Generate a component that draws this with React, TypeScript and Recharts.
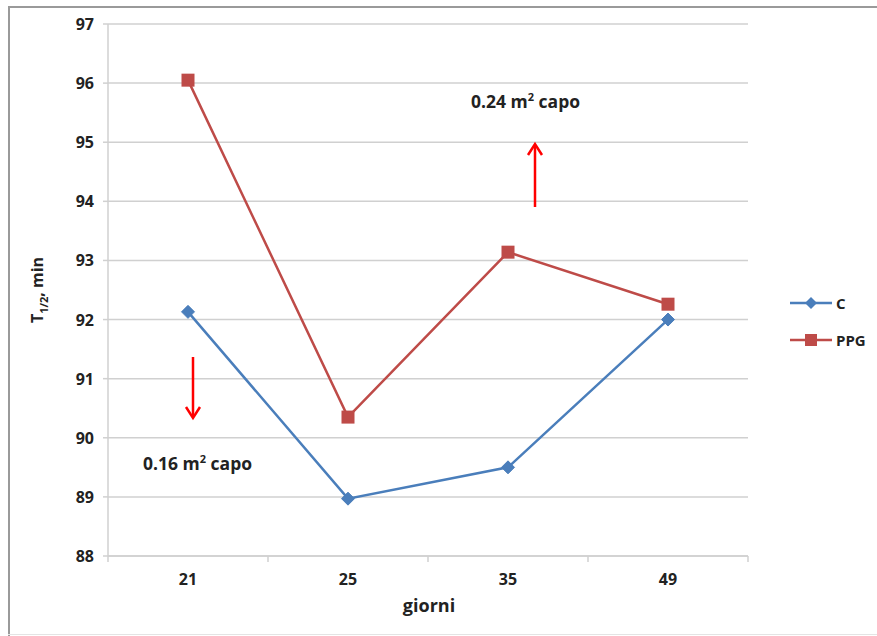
import React from "react";
import {
  LineChart,
  Line,
  XAxis,
  YAxis,
  CartesianGrid,
  Customized,
} from "recharts";

// Days on feed and half-time values (minutes)
const giorni = ["21", "25", "35", "49"];
const serieC = [92.13, 88.97, 89.5, 92.0];
const seriePPG = [96.05, 90.35, 93.14, 92.26];
const yTicks = [88, 89, 90, 91, 92, 93, 94, 95, 96, 97];

const data = giorni.map((g, i) => ({ giorni: g, C: serieC[i], PPG: seriePPG[i] }));

const BLUE = "#4a7ebb";
const RED = "#be4b48";
const GRID = "#d0d0d0";
const FONT = "'Open Sans', 'Liberation Sans', Arial, sans-serif";
const TEXT = "#222";
const HALF_BAND = 80;

const Diamond = (props: any) => {
  const { cx, cy } = props;
  if (cx == null || cy == null) return null;
  const r = 6.5;
  return (
    <path
      d={`M${cx},${cy - r} L${cx + r},${cy} L${cx},${cy + r} L${cx - r},${cy} Z`}
      fill={BLUE}
      stroke={BLUE}
    />
  );
};

const Square = (props: any) => {
  const { cx, cy } = props;
  if (cx == null || cy == null) return null;
  const s = 13;
  return <rect x={cx - s / 2} y={cy - s / 2} width={s} height={s} fill={RED} />;
};

// Category tick: label at centre, tick marks on the category boundaries
const XTick = (props: any) => {
  const { x, y, payload, index } = props;
  const last = index === giorni.length - 1;
  return (
    <g>
      <line x1={x - HALF_BAND} y1={y - 8} x2={x - HALF_BAND} y2={y - 2} stroke={GRID} strokeWidth={1.5} />
      {last && (
        <line x1={x + HALF_BAND} y1={y - 8} x2={x + HALF_BAND} y2={y - 2} stroke={GRID} strokeWidth={1.5} />
      )}
      <text
        x={x}
        y={y + 21}
        textAnchor="middle"
        fontFamily={FONT}
        fontWeight={700}
        fontSize={16}
        fill={TEXT}
      >
        {payload.value}
      </text>
    </g>
  );
};

const YTick = (props: any) => {
  const { x, y, payload } = props;
  return (
    <text
      x={x - 7}
      y={y + 6}
      textAnchor="end"
      fontFamily={FONT}
      fontWeight={700}
      fontSize={16}
      fill={TEXT}
    >
      {payload.value}
    </text>
  );
};

const LegendBox = () => (
  <svg width={90} height={60} style={{ position: "absolute", left: 790, top: 293 }}>
    <line x1={0} y1={10} x2={42} y2={10} stroke={BLUE} strokeWidth={2.5} />
    <path d="M21,4 L27,10 L21,16 L15,10 Z" fill={BLUE} />
    <text x={46} y={16} fontFamily={FONT} fontWeight={700} fontSize={15} fill={TEXT}>
      C
    </text>
    <line x1={0} y1={47} x2={42} y2={47} stroke={RED} strokeWidth={2.5} />
    <rect x={15} y={41} width={12} height={12} fill={RED} />
    <text x={46} y={53} fontFamily={FONT} fontWeight={700} fontSize={15} fill={TEXT}>
      PPG
    </text>
  </svg>
);

// Red arrows, area notes and axis titles
const Notes = () => (
  <g>
    <path d="M193,357 L193,416" stroke="#f00" strokeWidth={2.5} />
    <path d="M186,407 L193,418 L200,407" fill="none" stroke="#f00" strokeWidth={2.5} />
    <path d="M535,207 L535,146" stroke="#f00" strokeWidth={2.5} />
    <path d="M528,155 L535,144 L542,155" fill="none" stroke="#f00" strokeWidth={2.5} />
    <text x={143} y={470} fontFamily={FONT} fontWeight={700} fontSize={17.5} fill={TEXT}>
      0.16 m<tspan dy={-7} fontSize={11}>2</tspan>
      <tspan dy={7}> capo</tspan>
    </text>
    <text x={471} y={108} fontFamily={FONT} fontWeight={700} fontSize={17.5} fill={TEXT}>
      0.24 m<tspan dy={-7} fontSize={11}>2</tspan>
      <tspan dy={7}> capo</tspan>
    </text>
    <text
      transform="translate(43,290) rotate(-90)"
      textAnchor="middle"
      fontFamily={FONT}
      fontWeight={700}
      fontSize={16}
      fill={TEXT}
    >
      T<tspan dy={5} fontSize={11}>1/2</tspan>
      <tspan dy={-5}>, min</tspan>
    </text>
    <text x={429} y={612} textAnchor="middle" fontFamily={FONT} fontWeight={700} fontSize={18} fill={TEXT}>
      giorni
    </text>
  </g>
);

export default function App() {
  return (
    <div
      style={{
        position: "absolute",
        left: 0,
        top: 0,
        width: 877,
        height: 636,
        background: "#fff",
      }}
    >
      <div style={{ position: "absolute", left: 8, top: 6, width: 2, height: 630, background: "#9a9a9a" }} />
      <div style={{ position: "absolute", left: 8, top: 6, width: 869, height: 2, background: "#9a9a9a" }} />
      <div style={{ position: "absolute", left: 8, top: 634, width: 869, height: 1, background: "#e4e4e4" }} />
      <LineChart
        width={877}
        height={636}
        data={data}
        margin={{ top: 24, right: 129, bottom: 40, left: 0 }}
      >
        <CartesianGrid vertical={false} stroke={GRID} strokeWidth={1.5} />
        <XAxis
          dataKey="giorni"
          stroke={GRID}
          strokeWidth={1.5}
          tickLine={false}
          tick={<XTick />}
          height={40}
          interval={0}
          padding={{ left: HALF_BAND, right: HALF_BAND }}
        />
        <YAxis
          domain={[88, 97]}
          ticks={yTicks}
          width={108}
          stroke={GRID}
          strokeWidth={1.5}
          tickSize={5}
          tickLine={{ stroke: GRID, strokeWidth: 1.5 }}
          tick={<YTick />}
          interval={0}
        />
        <Line
          dataKey="C"
          name="C"
          stroke={BLUE}
          strokeWidth={2.5}
          dot={<Diamond />}
          activeDot={false}
          isAnimationActive={false}
        />
        <Line
          dataKey="PPG"
          name="PPG"
          stroke={RED}
          strokeWidth={2.5}
          dot={<Square />}
          activeDot={false}
          isAnimationActive={false}
        />
        <Customized component={Notes} />
      </LineChart>
      <LegendBox />
    </div>
  );
}
